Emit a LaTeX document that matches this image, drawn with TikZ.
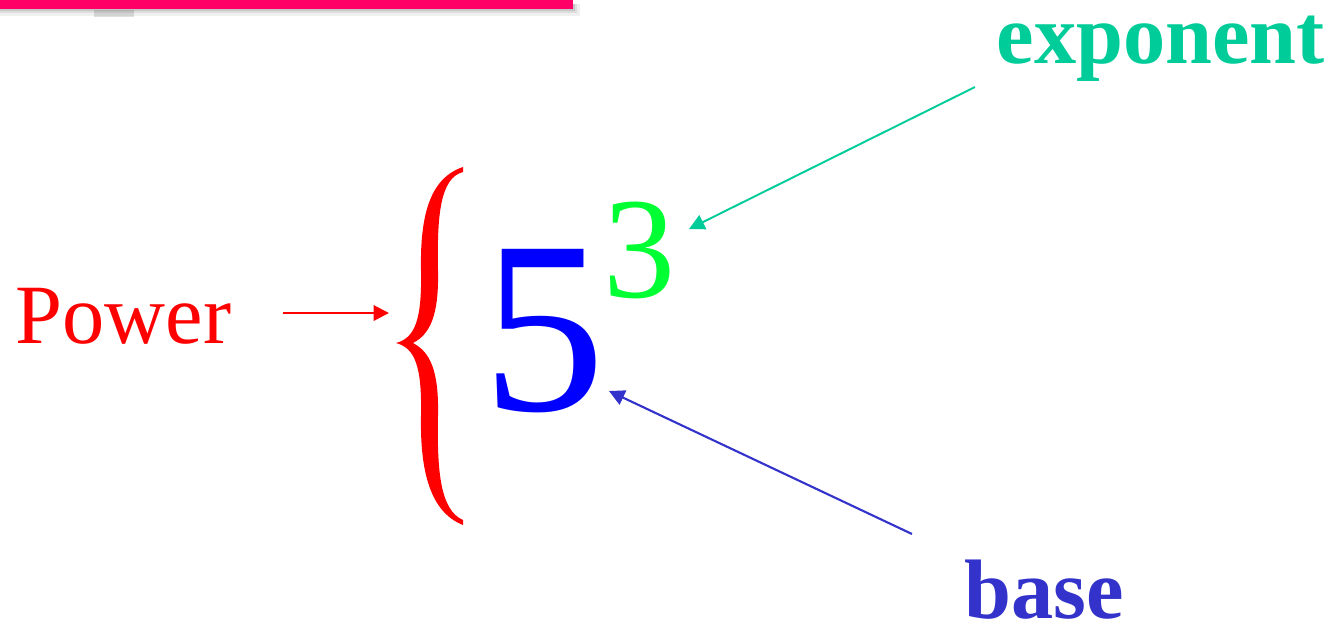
\documentclass[tikz,border=0pt]{standalone}
\usepackage{fontspec}
\setmainfont{Liberation Serif}
\usetikzlibrary{arrows.meta}
\definecolor{barpink}{RGB}{255,0,102}
\definecolor{expteal}{RGB}{0,204,153}
\definecolor{threegreen}{RGB}{0,255,51}
\definecolor{baseblue}{RGB}{51,51,204}

\begin{document}
\begin{tikzpicture}[x=0.01cm, y=-0.01cm,
  txt/.style={inner sep=0pt, anchor=base west},
  arr/.style={line width=0.55pt, -{Triangle[length=4.4pt, width=4.4pt]}}]
\useasboundingbox (0,0) rectangle (1332,629);

% pink bar at the top, with its shadow
\fill[black, opacity=0.06] (0,4) rectangle (580,16);
\fill[black, opacity=0.08] (0,4) rectangle (577,13);
\fill[black, opacity=0.10] (0,4) rectangle (575,11);
\fill[black, opacity=0.12] (94,10) rectangle (134,17);
\fill[barpink] (0,0) rectangle (573,9);

\node[txt, text=red, font=\fontsize{24}{28}\selectfont] (P) at (15,343) {Power};
\node[txt, text=blue, font=\fontsize{70}{80}\selectfont] (F) at (482,410) {5};
\node[txt, text=threegreen, font=\fontsize{41}{48}\selectfont] (T) at (603,297) {3};
\node[txt, text=expteal, font=\bfseries\fontsize{24}{28}\selectfont] (E) at (996,63) {exponent};
\node[txt, text=baseblue, font=\bfseries\fontsize{24}{28}\selectfont] (B) at (964,618) {base};

% the brace
\fill[red] (463,167) .. controls (430,178) and (420,215) .. (421,270)
  .. controls (422,320) and (415,338) .. (396,343)
  .. controls (415,348) and (422,366) .. (421,416)
  .. controls (420,471) and (430,512) .. (463,525)
  -- (463,520)
  .. controls (440,510) and (437,470) .. (438,416)
  .. controls (439,370) and (430,352) .. (413,343)
  .. controls (430,334) and (439,316) .. (438,270)
  .. controls (437,216) and (440,178) .. (463,172) -- cycle;

\coordinate (p0) at (283,313);
\coordinate (p1) at (389,313);
\coordinate (e0) at (975,87);
\coordinate (e1) at (689,229);
\coordinate (b0) at (912,534);
\coordinate (b1) at (609,391);

\draw[arr, red, line width=0.6pt] (p0) -- (p1);
\draw[arr, expteal] (e0) -- (e1);
\draw[arr, baseblue, line width=0.6pt] (b0) -- (b1);
\end{tikzpicture}
\end{document}
